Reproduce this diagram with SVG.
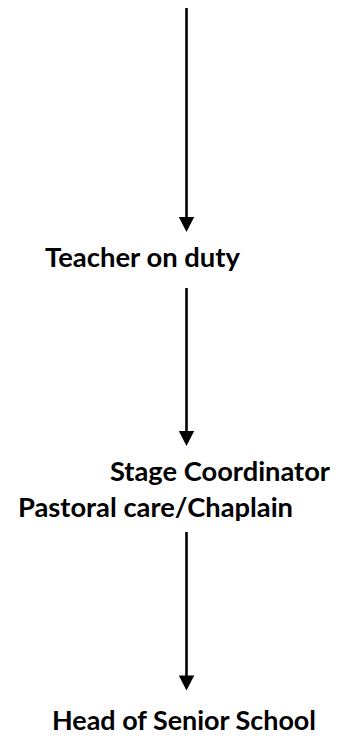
<svg xmlns="http://www.w3.org/2000/svg" width="341" height="740" viewBox="0 0 341 740">
<style>
.lbl{font-family:Lato,"Open Sans","Noto Sans",sans-serif;font-weight:bold;font-size:27px;fill:#000}
.ln{stroke:#000;stroke-width:2.6;fill:none}
.hd{fill:#000}
</style>
<rect width="341" height="740" fill="#fff"/>
<g id="connectors">
<line class="ln" x1="186.5" y1="8" x2="186.5" y2="218"/>
<polygon class="hd" points="178.8,217 194.2,217 186.5,232"/>
<line class="ln" x1="186.5" y1="288" x2="186.5" y2="432"/>
<polygon class="hd" points="178.8,431 194.2,431 186.5,446"/>
<line class="ln" x1="186.5" y1="532" x2="186.5" y2="676"/>
<polygon class="hd" points="178.8,675.5 194.2,675.5 186.5,690.5"/>
</g>
<g id="teacher"><text class="lbl" x="45" y="267" textLength="195" lengthAdjust="spacingAndGlyphs">Teacher on duty</text></g>
<g id="stage"><text class="lbl" x="110" y="481" textLength="220" lengthAdjust="spacingAndGlyphs">Stage Coordinator</text><text class="lbl" x="18" y="517" textLength="275" lengthAdjust="spacingAndGlyphs">Pastoral care/Chaplain</text></g>
<g id="head"><text class="lbl" x="52" y="730" textLength="264" lengthAdjust="spacingAndGlyphs">Head of Senior School</text></g>
</svg>
